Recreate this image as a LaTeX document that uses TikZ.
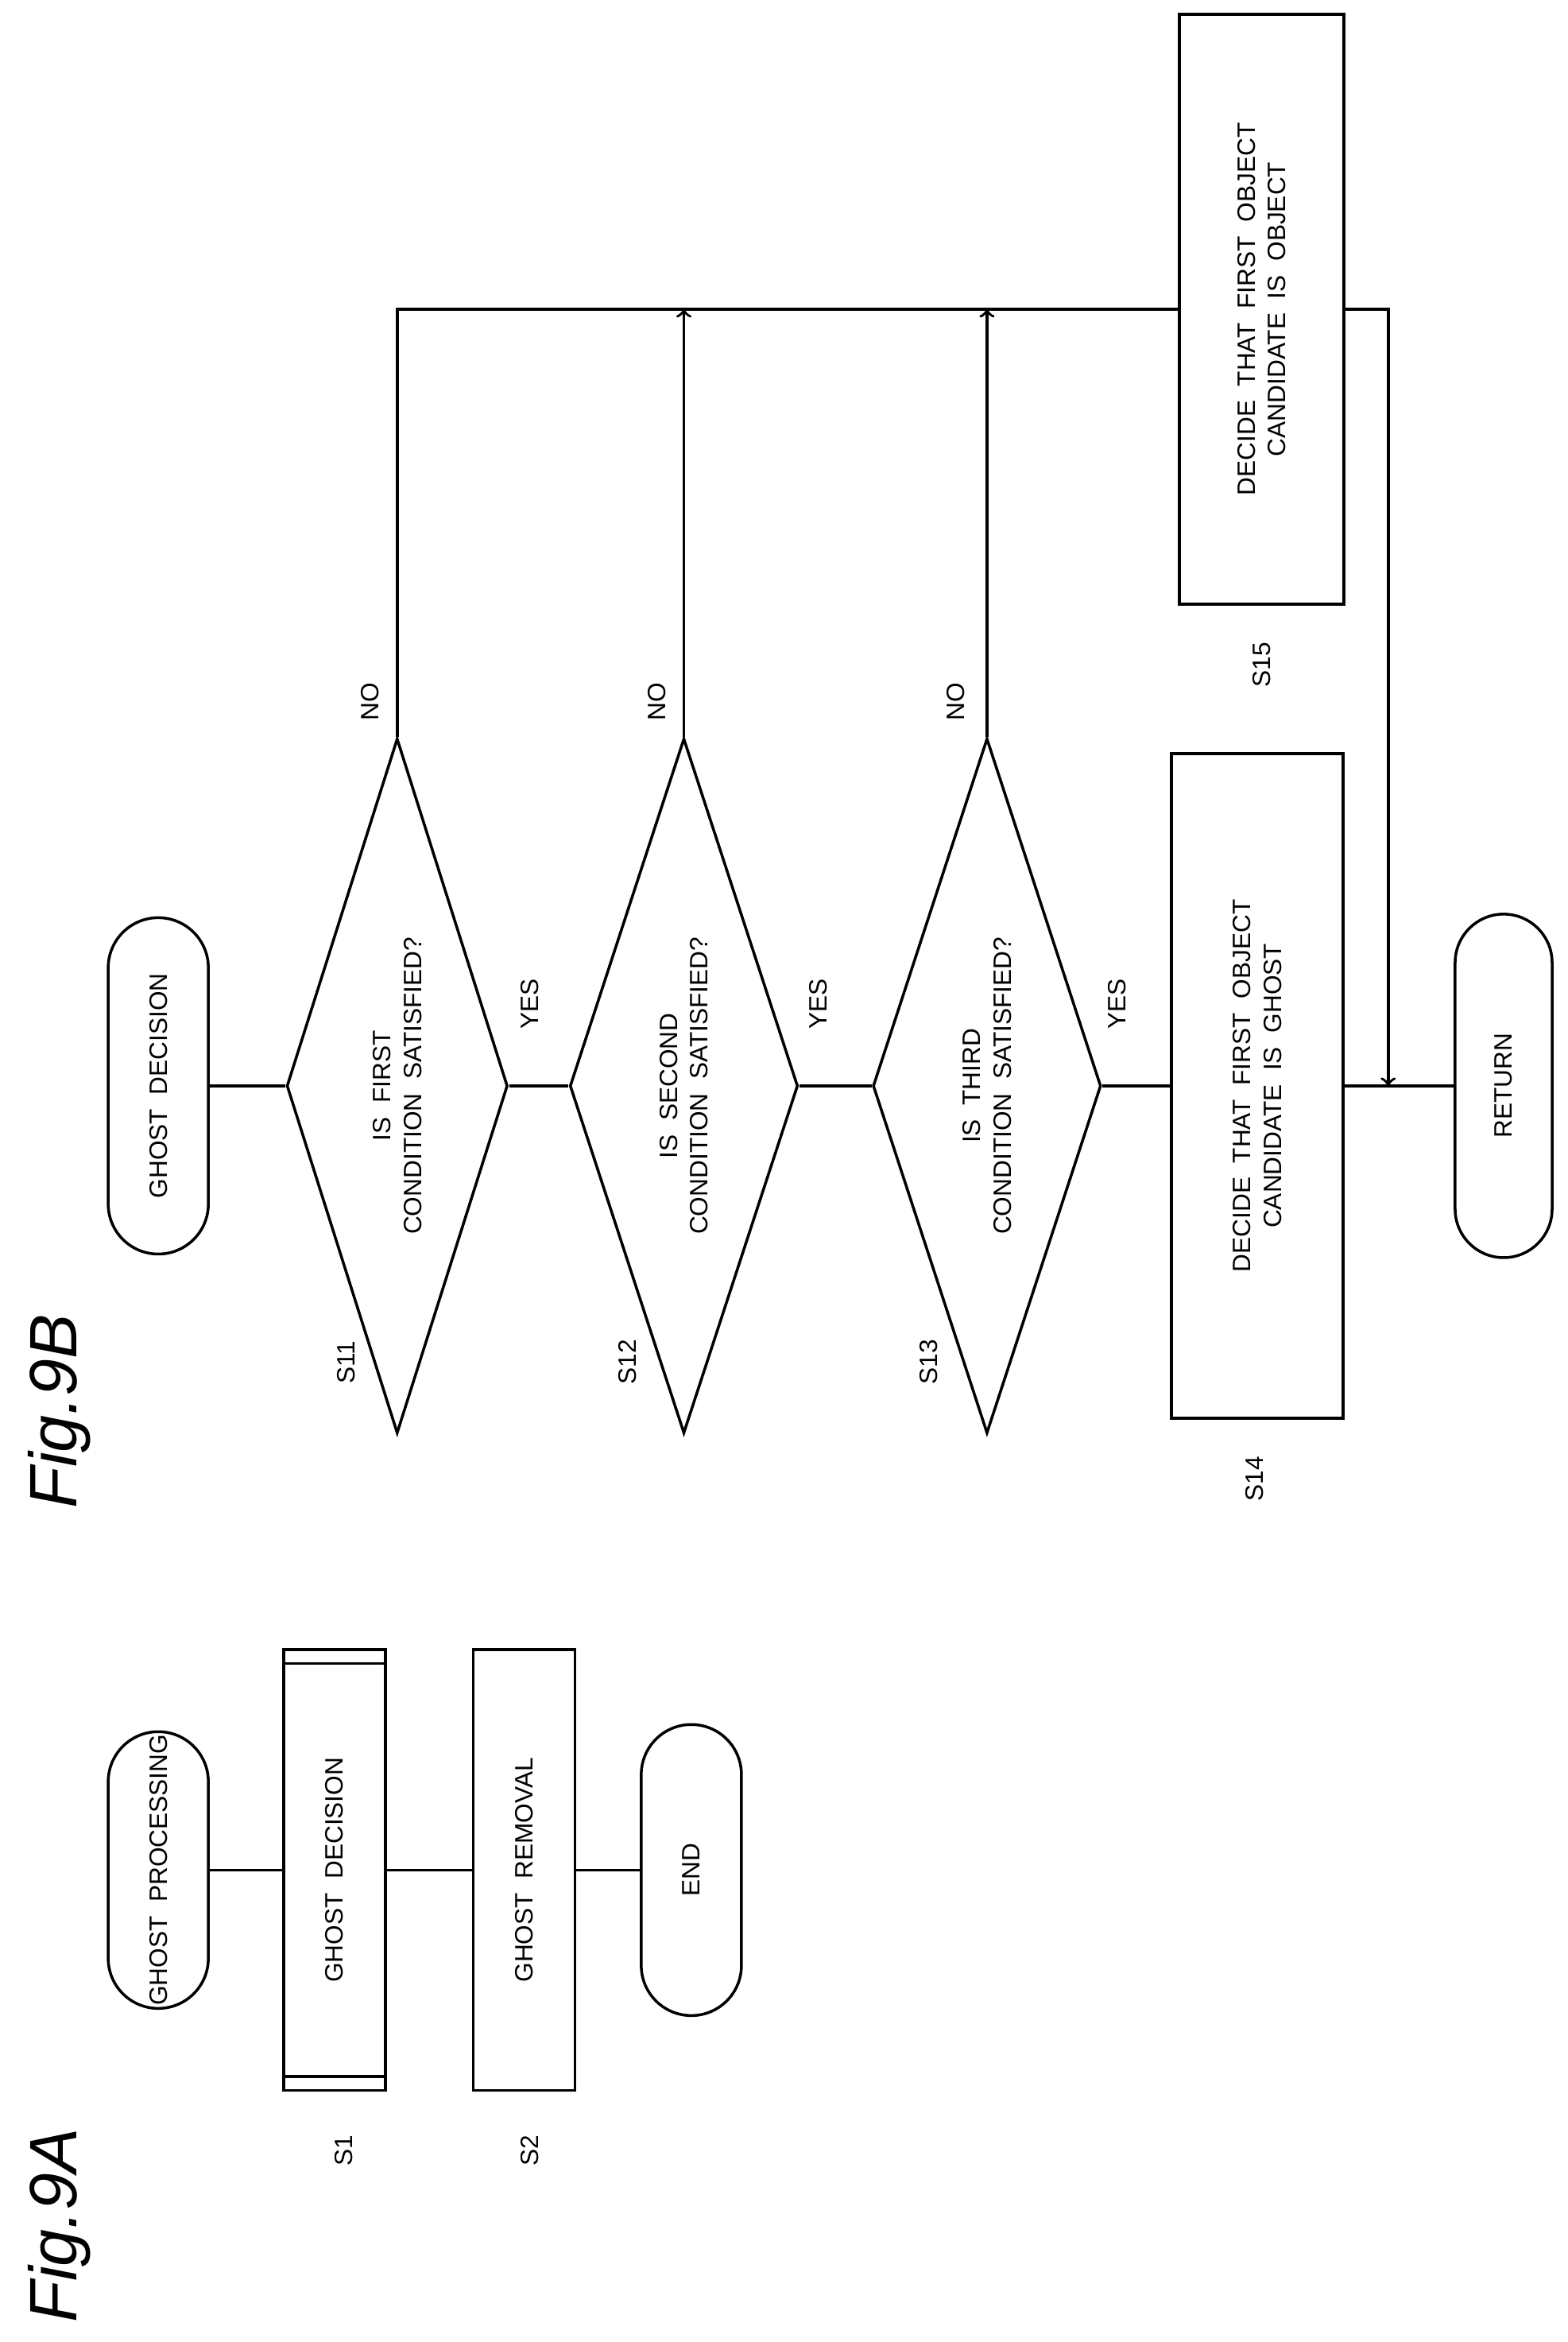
\documentclass[tikz,border=0pt]{standalone}
\usepackage{fontspec}
\setmainfont{Liberation Sans}
\usetikzlibrary{shapes.geometric,shapes.misc,calc}
\tikzset{
  lbl/.style={rotate=90, font=\fontsize{9}{11}\selectfont},
  terminal/.style={lbl, draw, rounded rectangle, inner sep=0pt, minimum height=1.26cm},
  process/.style={lbl, draw, rectangle, inner sep=0pt, align=center},
  decision/.style={lbl, draw, diamond, aspect=3, inner sep=0pt, align=center, minimum width=8.74cm, minimum height=2.8cm},
  figlbl/.style={rotate=90, font=\fontsize{24}{28}\selectfont\itshape}
}
\begin{document}
\begin{tikzpicture}[x=0.01879cm, y=-0.01879cm, line width=1pt]
    \useasboundingbox (0,0) rectangle (1050,1568);
    % Fig. 9A
    \node [figlbl] (figa) at (40,1490) {Fig.9A};
    \node [terminal, minimum width=3.48cm] (ghostproc) at (106,1252) {GHOST\ \ PROCESSING};
    \node [process, minimum width=5.54cm, minimum height=1.28cm] (ghostdec) at (224,1252) {GHOST\ \ DECISION};
    \draw ([yshift=-0.19cm]ghostdec.north east) -- ([yshift=-0.19cm]ghostdec.south east);
    \draw ([yshift=0.19cm]ghostdec.north west) -- ([yshift=0.19cm]ghostdec.south west);
    \node [process, minimum width=5.54cm, minimum height=1.28cm] (ghostrem) at (351,1252) {GHOST\ \ REMOVAL};
    \node [terminal, minimum width=3.66cm] (endnode) at (463,1252) {END};
    \node [lbl] (s1) at (230,1440) {S1};
    \node [lbl] (s2) at (355,1440) {S2};
    \draw (ghostproc.south) -- (ghostdec.north);
    \draw (ghostdec.south) -- (ghostrem.north);
    \draw (ghostrem.south) -- (endnode.north);
    % Fig. 9B
    \node [figlbl] (figb) at (40,945) {Fig.9B};
    \node [terminal, minimum width=4.23cm] (start) at (106,727) {GHOST\ \ DECISION};
    \node [decision, minimum height=2.78cm] (cond1) at (266,727) {IS\ \ FIRST\\CONDITION\ \ SATISFIED?};
    \node [decision, minimum height=2.87cm] (cond2) at (458,727) {IS\ \ SECOND\\CONDITION\ \ SATISFIED?};
    \node [decision, minimum height=2.87cm] (cond3) at (661,727) {IS\ \ THIRD\\CONDITION\ \ SATISFIED?};
    \node [process, minimum width=8.36cm, minimum height=2.16cm] (ghost) at (842,727) {DECIDE\ \ THAT\ \ FIRST\ \ OBJECT\\CANDIDATE\ \ IS\ \ GHOST};
    \node [terminal, minimum width=4.32cm, minimum height=1.22cm] (ret) at (1007,727) {RETURN};
    \node [process, minimum width=7.42cm, minimum height=2.07cm] (object) at (845,207) {DECIDE\ \ THAT\ \ FIRST\ \ OBJECT\\CANDIDATE\ \ IS\ \ OBJECT};
    \node [lbl] (s11) at (232,912) {S11};
    \node [lbl] (s12) at (420,912) {S12};
    \node [lbl] (s13) at (622,912) {S13};
    \node [lbl] (s14) at (840,990) {S14};
    \node [lbl] (s15) at (845,445) {S15};
    \node [lbl] (yes1) at (355,672) {YES};
    \node [lbl] (yes2) at (548,672) {YES};
    \node [lbl] (yes3) at (748,672) {YES};
    \node [lbl] (no1) at (248,470) {NO};
    \node [lbl] (no2) at (440,470) {NO};
    \node [lbl] (no3) at (640,470) {NO};
    \draw (start.south) -- (cond1.north);
    \draw (cond1.south) -- (cond2.north);
    \draw (cond2.south) -- (cond3.north);
    \draw (cond3.south) -- (ghost.north);
    \draw (ghost.south) -- (ret.north);
    \draw (cond1.east) |- (object.north);
    \draw [->] (cond2.east) -- (cond2.east |- object.north);
    \draw [->] (cond3.east) -- (cond3.east |- object.north);
    \coordinate (join) at ($(ghost.south)!0.4!(ret.north)$);
    \draw [->] (object.south) -| (join);
\end{tikzpicture}
\end{document}
